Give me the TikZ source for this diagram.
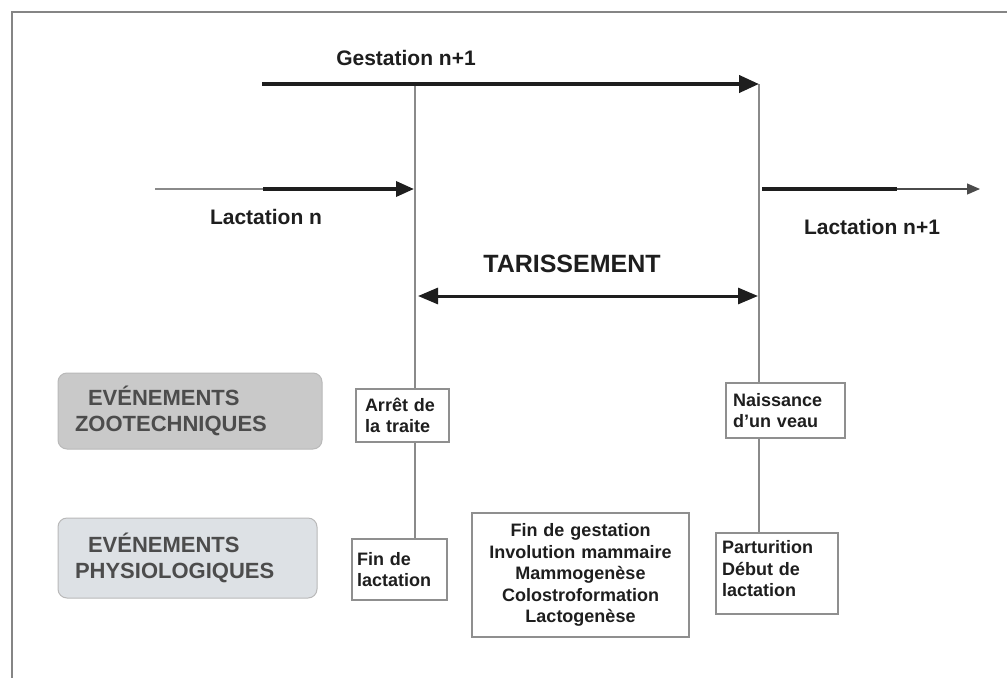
\documentclass[tikz,border=0pt]{standalone}
\usepackage{fontspec}
\setmainfont{Liberation Sans}
\usetikzlibrary{arrows.meta}
\definecolor{framec}{HTML}{858585}
\definecolor{vlinec}{HTML}{8A8A8A}
\definecolor{boxline}{HTML}{8F8F8F}
\definecolor{zfill}{HTML}{C9C9C9}
\definecolor{pfill}{HTML}{DDE1E5}
\definecolor{graytext}{HTML}{4C4C4C}
\definecolor{ink}{HTML}{1E1E1E}
\definecolor{thinc}{HTML}{8A8A8A}
\tikzset{
  lbl/.style={font=\bfseries\fontsize{21}{25}\selectfont, text=ink, inner sep=0pt},
  bigl/.style={font=\bfseries\fontsize{25}{30}\selectfont, text=ink, inner sep=0pt},
  evbox/.style={draw=boxline, line width=1.2pt, inner ysep=0pt, align=left,
    font=\bfseries\fontsize{18}{21.5}\selectfont, text=ink},
  catbox/.style={rounded corners=9pt, draw=gray!55, line width=1pt, align=left,
    inner xsep=17pt, inner ysep=0pt, font=\bfseries\fontsize{22}{25.5}\selectfont, text=graytext},
  vl/.style={draw=vlinec, line width=1.5pt},
  bigtip/.style={-{Triangle[length=20pt,width=17pt]}}
}
\begin{document}
\begin{tikzpicture}[x=1pt,y=-1pt]
\useasboundingbox (0,0) rectangle (1007,678);
\fill[white] (0,0) rectangle (1007,678);
% frame
\draw[framec, line width=2.2pt] (1007,12) -- (12,12) -- (12,678);

% labels
\node[lbl] (gest) at (406,58) {Gestation n+1};
\node[lbl] (lacn) at (266,217) {Lactation n};
\node[lbl] (lacn1) at (872,227) {Lactation n+1};
\node[bigl] (tar) at (572,264) {TARISSEMENT};

% coordinates
\coordinate (gs) at (262,84);
\coordinate (g1) at (415,84);
\coordinate (g2) at (759,84);
\coordinate (ln0) at (155,189);
\coordinate (ln1) at (263,189);
\coordinate (ln2) at (414,189);
\coordinate (lm0) at (762,189);
\coordinate (lm1) at (897,189);
\coordinate (lm2) at (980,189);
\coordinate (t0) at (418,296);
\coordinate (t1) at (758,296);

% category boxes
\node[catbox, fill=zfill, text width=230pt, minimum height=76pt] (zoo) at (190,411)
  {\hspace*{13pt}EVÉNEMENTS\\ZOOTECHNIQUES};
\node[catbox, fill=pfill, text width=225pt, minimum height=80pt] (phy) at (187.5,558)
  {\hspace*{13pt}EVÉNEMENTS\\PHYSIOLOGIQUES};

% event boxes
\node[evbox, inner xsep=9pt, text width=75pt, minimum height=53pt] (arr) at (402.5,415.5)
  {Arrêt de\\la traite};
\node[evbox, inner xsep=5pt, text width=85pt, minimum height=61pt] (fin) at (399.5,569.5)
  {Fin de\\lactation};
\node[evbox, inner xsep=7pt, text width=105pt, minimum height=55pt] (nai) at (785.5,410.5)
  {Naissance\\d'un veau};
\node[evbox, inner xsep=6pt, text width=110pt, minimum height=81pt] (par) at (777,573.5)
  {Parturition\\Début de\\lactation\\[-12pt]\mbox{}};
\node[evbox, align=center, inner xsep=4pt, text width=209pt, minimum height=124pt] (gst) at (580.5,575)
  {Fin de gestation\\Involution mammaire\\Mammogenèse\\Colostroformation\\Lactogenèse};

% vertical lines
\draw[vl] (g1) -- (g1 |- arr.north);
\draw[vl] (g1 |- arr.south) -- (g1 |- fin.north);
\draw[vl] (g2) -- (g2 |- nai.north);
\draw[vl] (g2 |- nai.south) -- (g2 |- par.north);

% arrows
\draw[ink, line width=4pt, bigtip] (gs) -- (g2);
\draw[thinc, line width=1.2pt] (ln0) -- (ln1);
\draw[ink, line width=3.5pt, -{Triangle[length=18pt,width=15pt]}] (ln1) -- (ln2);
\draw[ink, line width=3.5pt] (lm0) -- (lm1);
\draw[ink!80, line width=1.2pt, -{Triangle[length=13pt,width=11pt]}] (lm1) -- (lm2);
\draw[ink, line width=3pt, {Triangle[length=20pt,width=16pt]}-{Triangle[length=20pt,width=16pt]}] (t0) -- (t1);
\end{tikzpicture}
\end{document}
